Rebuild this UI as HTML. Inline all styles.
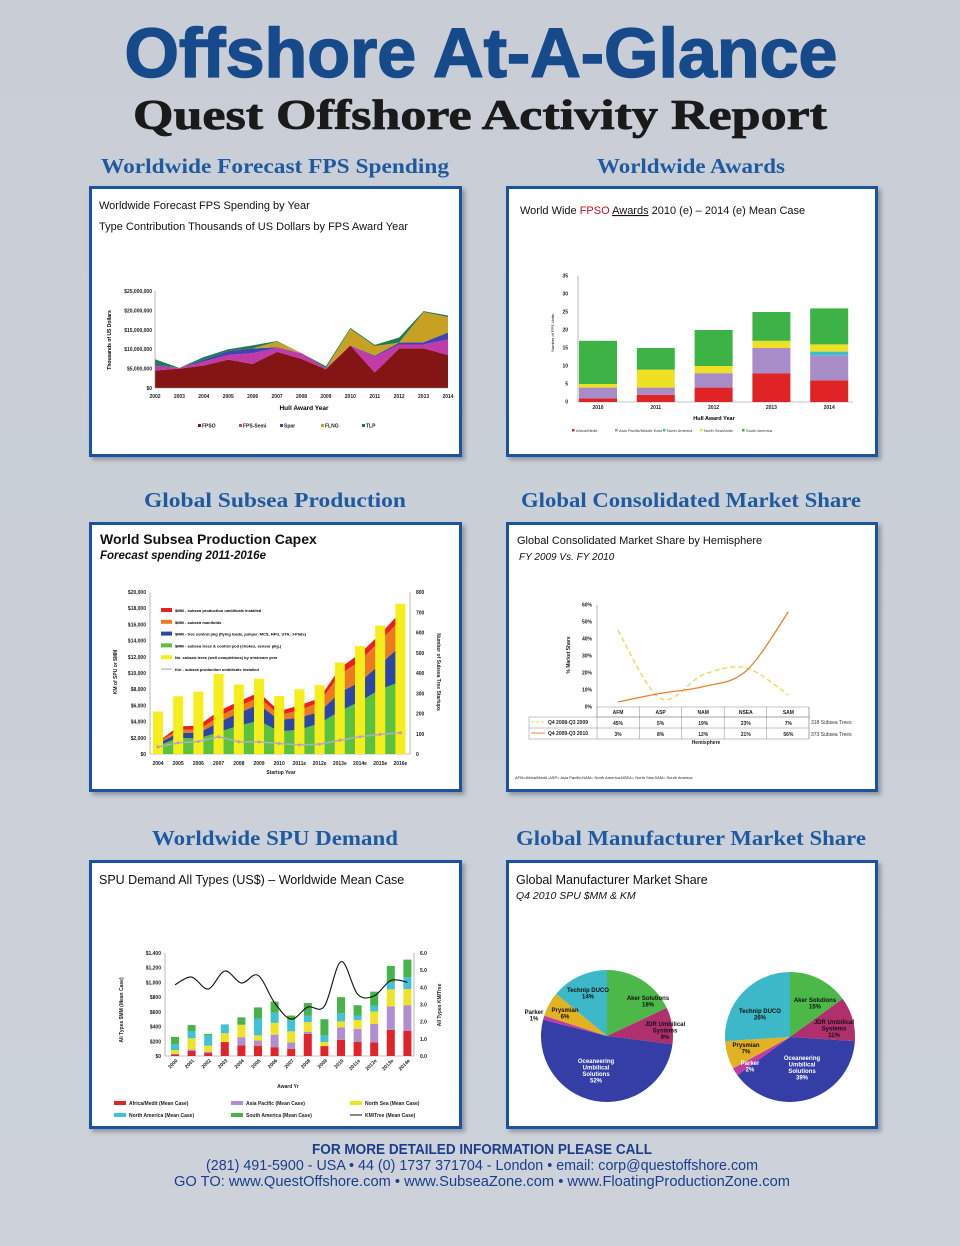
<!DOCTYPE html>
<html><head><meta charset="utf-8">
<style>
html,body{margin:0;padding:0;background:#cbd0d7;}
svg{display:block;font-family:"Liberation Sans",sans-serif;}
.sec{font-family:"Liberation Serif",serif;font-weight:bold;fill:#1f5aa0;font-size:21px;text-anchor:middle;}
.ttl{font-size:11px;fill:#111;}
.ax{font-size:5px;font-weight:bold;fill:#222;}
</style></head><body>
<svg id="pg" width="960" height="1246" viewBox="0 0 960 1246">
<defs>
<linearGradient id="bg" x1="0" y1="0" x2="0" y2="1"><stop offset="0" stop-color="#c9ced6"/><stop offset="1" stop-color="#cdd2da"/></linearGradient>
<filter id="sh" x="-5%" y="-5%" width="115%" height="115%"><feDropShadow dx="3" dy="3" stdDeviation="2" flood-color="#556" flood-opacity="0.5"/></filter>
</defs>
<rect x="0" y="0" width="960" height="1246" fill="url(#bg)"/>
<text x="481" y="77" text-anchor="middle" textLength="713" lengthAdjust="spacingAndGlyphs" font-family="Liberation Sans Narrow,Liberation Sans,sans-serif" font-size="70" font-weight="bold" fill="#174a8b" stroke="#174a8b" stroke-width="1.5">Offshore At-A-Glance</text>
<text x="480" y="129" text-anchor="middle" textLength="694" lengthAdjust="spacingAndGlyphs" font-family="Liberation Serif,serif" font-size="42" font-weight="bold" fill="#1a1a1a" stroke="#1a1a1a" stroke-width="0.8">Quest Offshore Activity Report</text>

<text class="sec" x="275" y="173" textLength="348" lengthAdjust="spacingAndGlyphs">Worldwide Forecast FPS Spending</text>
<text class="sec" x="691" y="173" textLength="188" lengthAdjust="spacingAndGlyphs">Worldwide Awards</text>
<text class="sec" x="275" y="507" textLength="262" lengthAdjust="spacingAndGlyphs">Global Subsea Production</text>
<text class="sec" x="691" y="507" textLength="340" lengthAdjust="spacingAndGlyphs">Global Consolidated Market Share</text>
<text class="sec" x="275" y="845" textLength="246" lengthAdjust="spacingAndGlyphs">Worldwide SPU Demand</text>
<text class="sec" x="691" y="845" textLength="350" lengthAdjust="spacingAndGlyphs">Global Manufacturer Market Share</text>

<g filter="url(#sh)">
<rect x="90.5" y="187.5" width="370" height="268" fill="#fff" stroke="#1f52a0" stroke-width="3"/>
<rect x="507.5" y="187.5" width="369" height="268" fill="#fff" stroke="#1f52a0" stroke-width="3"/>
<rect x="90.5" y="523.5" width="370" height="267" fill="#fff" stroke="#1f52a0" stroke-width="3"/>
<rect x="507.5" y="523.5" width="369" height="267" fill="#fff" stroke="#1f52a0" stroke-width="3"/>
<rect x="90.5" y="861.5" width="370" height="266" fill="#fff" stroke="#1f52a0" stroke-width="3"/>
<rect x="507.5" y="861.5" width="369" height="266" fill="#fff" stroke="#1f52a0" stroke-width="3"/>
</g>

<text class="ttl" x="99" y="209">Worldwide Forecast FPS Spending by Year</text>
<text class="ttl" x="99" y="230">Type Contribution Thousands of US Dollars by FPS Award Year</text>
<text class="ttl" x="520" y="214" font-size="11.5">World Wide <tspan fill="#c0141a">FPSO</tspan> <tspan text-decoration="underline">Awards</tspan> 2010 (e) – 2014 (e) Mean Case</text>
<text x="100" y="544" font-size="14" font-weight="bold" fill="#111">World Subsea Production Capex</text>
<text x="100" y="559" font-size="11.5" font-weight="bold" font-style="italic" fill="#111">Forecast spending 2011-2016e</text>
<text class="ttl" x="517" y="544" font-size="11.5">Global Consolidated Market Share by Hemisphere</text>
<text x="519" y="560" font-size="10" font-style="italic" fill="#111">FY 2009 Vs. FY 2010</text>
<text x="99" y="884" font-size="12.5" fill="#111">SPU Demand All Types (US$) – Worldwide Mean Case</text>
<text x="516" y="884" font-size="12.5" fill="#111">Global Manufacturer Market Share</text>
<text x="516" y="899" font-size="10.5" font-style="italic" fill="#111">Q4 2010 SPU $MM &amp; KM</text>

<g font-weight="bold" fill="#1b3d8a" text-anchor="middle" font-size="14.5">
<text x="482" y="1154" textLength="340" lengthAdjust="spacingAndGlyphs">FOR MORE DETAILED INFORMATION PLEASE CALL</text>
<text x="482" y="1170" font-weight="normal" textLength="552" lengthAdjust="spacingAndGlyphs">(281) 491-5900 - USA  •  44 (0) 1737 371704 - London   •  email: corp@questoffshore.com</text>
<text x="482" y="1186" font-weight="normal" textLength="616" lengthAdjust="spacingAndGlyphs">GO TO:  www.QuestOffshore.com •  www.SubseaZone.com  •  www.FloatingProductionZone.com</text>
</g>
<g id="charts"></g>
</svg>
<script>
// ---------- Chart 1: FPS spending (stacked area, $M) ----------
const fpsYears = ['2002','2003','2004','2005','2006','2007','2008','2009','2010','2011','2012','2013','2014'];
const fpsFPSO = [4.5,5.0,5.8,7.3,6.2,9.3,7.5,4.8,11.0,4.0,10.2,10.2,8.5];
const fpsSemi = [1.2,0.2,1.0,1.2,2.8,1.0,1.5,0.3,0.0,4.0,1.0,1.0,4.0];
const fpsSpar = [0.3,0.0,0.5,1.0,1.2,0.2,0.0,0.0,0.0,0.3,0.5,0.6,1.8];
const fpsFLNG = [0.0,0.0,0.0,0.0,0.0,1.5,0.0,0.0,4.2,2.5,0.0,7.8,4.0];
const fpsTLP = [1.4,0.0,0.7,0.5,0.8,0.1,0.0,0.5,0.3,0.3,1.3,0.2,0.4];
const fpsTicks = ['$0','$5,000,000','$10,000,000','$15,000,000','$20,000,000','$25,000,000'];
// ---------- Chart 2: FPSO awards ----------
const awYears = ['2010','2011','2012','2013','2014'];
const awAfrica = [1,2,4,8,6];
const awAsia = [3,2,4,7,7];
const awNAm = [0,0,0,0,1];
const awNSea = [1,5,2,2,2];
const awSAm = [12,6,10,8,10];
const awTicks = [0,5,10,15,20,25,30,35];
// ---------- Chart 3: Subsea capex ----------
const cxYears = ['2004','2005','2006','2007','2008','2009','2010','2011e','2012e','2013e','2014e','2015e','2016e'];
const cxTrees = [210,285,308,395,343,372,286,320,340,452,533,634,742];
const cxGreen = [1000,2000,1900,2700,3500,4100,2800,3000,3800,5300,6500,8000,8900];
const cxBlue = [300,600,700,1200,1600,2000,1400,1500,1400,2300,2400,3100,4400];
const cxOrange = [100,400,400,700,800,900,600,900,1200,2200,2600,2900,3200];
const cxRed = [100,400,500,700,600,600,500,600,500,800,900,800,1000];
const cxKm = [35,55,62,85,60,60,52,45,48,68,85,97,105];
const cxLeftTicks = ['$0','$2,000','$4,000','$6,000','$8,000','$10,000','$12,000','$14,000','$16,000','$18,000','$20,000'];
const cxRightTicks = [0,100,200,300,400,500,600,700,800];
// ---------- Chart 4: SPU demand ----------
const spYears = ['2000','2001','2002','2003','2004','2005','2006','2007','2008','2009','2010','2011e','2012e','2013e','2014e'];
const spAfrica = [20,70,40,190,145,140,120,95,300,135,220,190,185,355,340];
const spAsia = [10,20,20,0,110,70,170,90,30,0,170,180,250,320,350];
const spNSea = [50,150,80,120,170,70,160,150,130,55,80,120,170,230,220];
const spNAm = [80,100,140,120,0,230,140,150,90,90,110,60,80,100,160];
const spSAm = [100,80,20,0,100,150,150,65,170,220,220,140,190,220,240];
const spKm = [4.15,4.6,3.9,4.95,4.25,4.7,3.1,2.15,2.85,2.9,5.5,3.6,3.5,4.4,4.3];
const spLeftTicks = ['$0','$200','$400','$600','$800','$1,000','$1,200','$1,400'];
const spRightTicks = ['0.0','1.0','2.0','3.0','4.0','5.0','6.0'];
// ---------- Chart 5: market share ----------
const msCats = ['AFM','ASP','NAM','NSEA','SAM'];
const ms2009 = [45,5,19,23,7];
const ms2010 = [3,8,12,21,56];
const msTicks = [0,10,20,30,40,50,60];
// ---------- Chart 6: pies ----------
const pieNames = ['Aker Solutions','JDR Umbilical Systems','Oceaneering Umbilical Solutions','Parker','Prysmian','Technip DUCO'];
const pieLeft = [18,9,52,1,6,14];
const pieRight = [15,11,39,2,7,26];

const NS='http://www.w3.org/2000/svg';
const root=document.getElementById('charts');
function mk(tag,attrs,parent){const e=document.createElementNS(NS,tag);for(const k in attrs)e.setAttribute(k,attrs[k]);(parent||root).appendChild(e);return e;}
function txt(x,y,s,attrs){const e=mk('text',Object.assign({x:x,y:y},attrs||{}));e.textContent=s;return e;}
function smooth(pts){let d='M'+pts[0][0]+','+pts[0][1];for(let i=0;i<pts.length-1;i++){const p0=pts[i-1]||pts[i],p1=pts[i],p2=pts[i+1],p3=pts[i+2]||p2;const c1=[p1[0]+(p2[0]-p0[0])/6,p1[1]+(p2[1]-p0[1])/6],c2=[p2[0]-(p3[0]-p1[0])/6,p2[1]-(p3[1]-p1[1])/6];d+=' C'+c1+' '+c2+' '+p2;}return d;}

// ===== Chart 1 =====
(function(){
 const x0=155,x1=448,yb=388,yt=291,ymax=25;
 const X=i=>x0+i*(x1-x0)/(fpsYears.length-1), Y=v=>yb-v/ymax*(yb-yt);
 const series=[fpsFPSO,fpsSemi,fpsSpar,fpsFLNG,fpsTLP];
 const cols=['#831515','#c23aa8','#4242b0','#c8a024','#1f7d4d'];
 const names=['FPSO','FPS-Semi','Spar','FLNG','TLP'];
 let base=fpsYears.map(()=>0);
 series.forEach((s,k)=>{
  const top=base.map((b,i)=>b+s[i]);
  let d='M'+top.map((v,i)=>X(i)+','+Y(v)).join(' L');
  for(let i=base.length-1;i>=0;i--)d+=' L'+X(i)+','+Y(base[i]);
  const p=mk('path',{d:d+'Z',fill:cols[k]});
  
  
  base=top;
 });
 mk('line',{x1:x0,y1:yt,x2:x0,y2:yb,stroke:'#888','stroke-width':0.6});
 mk('line',{x1:x0,y1:yb,x2:x1,y2:yb,stroke:'#888','stroke-width':0.6});
 fpsTicks.forEach((t,i)=>{const e=txt(x0-3,Y(i*5)+2,t,{class:'ax','text-anchor':'end'});
  
  });
 fpsYears.forEach((t,i)=>{const e=txt(X(i),398,t,{class:'ax','text-anchor':'middle'});
  
  });
 const xt=txt(304,410,'Hull Award Year',{'font-size':6.5,'font-weight':'bold','text-anchor':'middle'});
 
 
 const yt2=txt(0,0,'Thousands of US Dollars',{'font-size':5,'font-weight':'bold','text-anchor':'middle',transform:'translate(111,340) rotate(-90)'});
 
 
 names.forEach((n,k)=>{const g=mk('g',{});
  
  
  mk('rect',{x:198+k*41,y:424,width:3,height:3,fill:cols[k]},g);
  const t=txt(202+k*41,427.5,n,{class:'ax'});g.appendChild(t);});
})();

// ===== Chart 2 =====
(function(){
 const x0=578,x1=853,yb=402,yt=276,ymax=35,bw=38;
 const X=i=>598+i*57.8, Y=v=>yb-v/ymax*(yb-yt);
 const series=[awAfrica,awAsia,awNAm,awNSea,awSAm];
 const cols=['#e02426','#a88cc8','#36bfcc','#eee124','#3db245'];
 const names=['Africa/Medit.','Asia Pacific/Middle East','North America','North Sea/Arctic','South America'];
 mk('line',{x1:x0,y1:yt,x2:x0,y2:yb,stroke:'#888','stroke-width':0.6});
 mk('line',{x1:x0,y1:yb,x2:x1,y2:yb,stroke:'#888','stroke-width':0.6});
 awTicks.forEach(t=>{const e=txt(x0-10,Y(t)+1.5,String(t),{class:'ax','font-size':4,'text-anchor':'end'});
  
  });
 awYears.forEach((yr,i)=>{let b=0;
  series.forEach((s,k)=>{if(s[i]>0){const r=mk('rect',{x:X(i)-bw/2,y:Y(b+s[i]),width:bw,height:Y(b)-Y(b+s[i]),fill:cols[k]});
   
   }b+=s[i];});
  const e=txt(X(i),409,yr,{class:'ax','font-size':4,'text-anchor':'middle'});
  
  });
 const xt=txt(714,420,'Hull Award Year',{'font-size':5.5,'font-weight':'bold','text-anchor':'middle'});
 
 
 const yt2=txt(0,0,'Number of FPS Units',{'font-size':4,'text-anchor':'middle',transform:'translate(554,333) rotate(-90)'});
 
 
 const lx=[572,615,663,700,742];
 names.forEach((n,k)=>{const g=mk('g',{});
  
  
  mk('rect',{x:lx[k],y:429,width:2.5,height:2.5,fill:cols[k]},g);
  g.appendChild(txt(lx[k]+4,432,n,{'font-size':4,fill:'#333'}));});
})();

// ===== Chart 3 =====
(function(){
 const x0=150,x1=410,yb=754,yt=592;
 const X=i=>158+i*20.2, Y=v=>yb-v/20000*(yb-yt), YR=v=>yb-v/800*(yb-yt);
 mk('line',{x1:x0,y1:yt,x2:x0,y2:yb,stroke:'#888','stroke-width':0.6});
 mk('line',{x1:x1,y1:yt,x2:x1,y2:yb,stroke:'#888','stroke-width':0.6});
 mk('line',{x1:x0,y1:yb,x2:x1,y2:yb,stroke:'#888','stroke-width':0.6});
 const series=[cxGreen,cxBlue,cxOrange,cxRed];
 const cols=['#5bc241','#2a46a8','#ec7a23','#e8211f'];
 let base=cxYears.map(()=>0);
 series.forEach((s,k)=>{const top=base.map((b,i)=>b+s[i]);
  let d='M'+top.map((v,i)=>X(i)+','+Y(v)).join(' L');
  for(let i=base.length-1;i>=0;i--)d+=' L'+X(i)+','+Y(base[i]);
  const p=mk('path',{d:d+'Z',fill:cols[k]});
  
  
  base=top;});
 cxTrees.forEach((v,i)=>{const r=mk('rect',{x:X(i)-5,y:YR(v),width:10,height:yb-YR(v),fill:'#f5ee1a'});
  
  });
 const pl=mk('polyline',{points:cxKm.map((v,i)=>X(i)+','+YR(v)).join(' '),fill:'none',stroke:'#b8a8c8','stroke-width':1.5});
 
 
 cxKm.forEach((v,i)=>{const c=mk('circle',{cx:X(i),cy:YR(v),r:1.5,fill:'#b0a0c0'});
  
  });
 cxLeftTicks.forEach((t,i)=>{const e=txt(x0-4,Y(i*2000)+2,t,{class:'ax','text-anchor':'end'});
  
  });
 cxRightTicks.forEach(t=>{const e=txt(x1+6,YR(t)+2,String(t),{class:'ax'});
  
  });
 cxYears.forEach((t,i)=>{const e=txt(X(i),765,t,{class:'ax','text-anchor':'middle'});
  
  });
 const xt=txt(281,774,'Startup Year',{class:'ax','text-anchor':'middle'});
 
 
 const l1=txt(0,0,'KM of SPU or $MM',{class:'ax','text-anchor':'middle',transform:'translate(117,672) rotate(-90)'});
 
 
 const l2=txt(0,0,'Number of Subsea Tree Startups',{class:'ax','text-anchor':'middle',transform:'translate(437,672) rotate(90)'});
 
 
 const leg=['$MM - subsea production umbilicals installed','$MM - subsea manifolds','$MM - tree control pkg (flying leads, jumper, MCS, HPU, UTA, J-Plate)','$MM - subsea trees & control pod (chokes, sensor pkg.)','No. subsea trees (well completions) by onstream year','Km - subsea production umbilicals installed'];
 const lc=['#e8211f','#ec7a23','#2a46a8','#5bc241','#f5ee1a','#b8a8c8'];
 leg.forEach((n,k)=>{const g=mk('g',{});
  
  
  mk('rect',{x:161,y:608+k*11.8-(k==5?-1.5:0),width:11,height:k==5?1.2:4,fill:lc[k]},g);
  g.appendChild(txt(175,612+k*11.8,n,{'font-size':4,'font-weight':'bold'}));});
})();

// ===== Chart 5 =====
(function(){
 const x0=597,x1=808,yb=707,yt=605;
 const X=i=>618+i*42.6, Y=v=>yb-v/60*(yb-yt);
 mk('line',{x1:x0,y1:yt,x2:x0,y2:yb,stroke:'#888','stroke-width':0.6});
 msTicks.forEach(t=>{const e=txt(x0-5,Y(t)+1.5,t+'%',{class:'ax','font-size':4.5,'text-anchor':'end'});
  
  });
 const a=mk('path',{d:smooth(ms2009.map((v,i)=>[X(i),Y(v)])),fill:'none',stroke:'#e8d850','stroke-width':1.3,'stroke-dasharray':'5,3'});
 
 
 const b=mk('path',{d:smooth(ms2010.map((v,i)=>[X(i),Y(v)])),fill:'none',stroke:'#ec8030','stroke-width':1.3});
 
 
 const yt2=txt(0,0,'% Market Share',{class:'ax','text-anchor':'middle',transform:'translate(570,655) rotate(-90)'});
 
 
 const tg=mk('g',{stroke:'#888','stroke-width':0.5,fill:'none'});
 mk('rect',{x:597,y:707,width:212,height:10},tg);mk('rect',{x:529,y:717,width:280,height:22},tg);
 mk('line',{x1:529,y1:728,x2:809,y2:728},tg);
 for(let i=0;i<=5;i++)mk('line',{x1:597+i*42.4,y1:707,x2:597+i*42.4,y2:739},tg);
 msCats.forEach((c,i)=>{const e=txt(X(i),714,c,{class:'ax','font-size':4.5,'text-anchor':'middle'});
  
  
  const v1=txt(X(i),725,ms2009[i]+'%',{class:'ax','font-size':4.5,'text-anchor':'middle'});
  
  
  const v2=txt(X(i),736,ms2010[i]+'%',{class:'ax','font-size':4.5,'text-anchor':'middle'});
  
  });
 mk('line',{x1:531,y1:722,x2:545,y2:722,stroke:'#e8d850','stroke-width':1,'stroke-dasharray':'3,2'});
 mk('line',{x1:531,y1:733,x2:545,y2:733,stroke:'#ec8030','stroke-width':1});
 txt(548,724,'Q4 2008-Q3  2009',{class:'ax','font-size':4});
 txt(548,735,'Q4 2009-Q3  2010',{class:'ax','font-size':4});
 txt(811,724,'318 Subsea Trees',{'font-size':5,fill:'#333'});
 txt(811,736,'373 Subsea Trees',{'font-size':5,fill:'#333'});
 txt(706,744,'Hemisphere',{class:'ax','font-size':4.5,'text-anchor':'middle'});
 txt(515,779,'AFM=Africa/Medit.;ASP= Asia Pacific;NAM= North America;NSEA= North Sea;SAM= South America',{'font-size':4,fill:'#222'});
})();

// ===== Chart 4 =====
(function(){
 const x0=165,x1=414,yb=1056,yt=953;
 const X=i=>175+i*16.6, Y=v=>yb-v/1400*(yb-yt), YR=v=>yb-v/6*(yb-yt);
 const series=[spAfrica,spAsia,spNSea,spNAm,spSAm];
 const cols=['#e0242a','#b18ed0','#eee424','#42c2d6','#46b448'];
 const names=['Africa/Medit (Mean Case)','Asia Pacific (Mean Case)','North Sea (Mean Case)','North America (Mean Case)','South America (Mean Case)','KM/Tree (Mean Case)'];
 mk('line',{x1:x0,y1:yt,x2:x0,y2:yb,stroke:'#888','stroke-width':0.6});
 mk('line',{x1:x1,y1:yt,x2:x1,y2:yb,stroke:'#888','stroke-width':0.6});
 mk('line',{x1:x0,y1:yb,x2:x1,y2:yb,stroke:'#888','stroke-width':0.6});
 spYears.forEach((yr,i)=>{let b=0;
  series.forEach((s,k)=>{if(s[i]>0){const r=mk('rect',{x:X(i)-4,y:Y(b+s[i]),width:8,height:Y(b)-Y(b+s[i]),fill:cols[k]});
   
   }b+=s[i];});
  const e=txt(0,0,yr,{class:'ax','font-size':6,'text-anchor':'end',transform:'translate('+(X(i)+3)+',1061) rotate(-45)'});
  
  });
 const ln=mk('path',{d:smooth(spKm.map((v,i)=>[X(i),YR(v)])),fill:'none',stroke:'#111','stroke-width':1.1});
 
 
 spLeftTicks.forEach((t,i)=>{const e=txt(x0-4,Y(i*200)+2,t,{class:'ax','font-size':5.5,'text-anchor':'end'});
  
  });
 spRightTicks.forEach((t,i)=>{const e=txt(x1+6,YR(i)+2,t,{class:'ax','font-size':5.5});
  
  });
 const xt=txt(288,1088,'Award Yr',{class:'ax','font-size':6,'text-anchor':'middle'});
 
 
 const l1=txt(0,0,'All Types $MM (Mean Case)',{class:'ax','font-size':6,'text-anchor':'middle',transform:'translate(123,1010) rotate(-90)'});
 
 
 const l2=txt(0,0,'All Types KM/Tree',{class:'ax','font-size':6,'text-anchor':'middle',transform:'translate(441,1005) rotate(-90)'});
 
 
 const lp=[[114,1101],[231,1101],[350,1101],[114,1113],[231,1113],[350,1113]];
 const lc=['#e0242a','#b18ed0','#eee424','#42c2d6','#46b448','#111'];
 names.forEach((n,k)=>{const g=mk('g',{});
  
  
  mk('rect',{x:lp[k][0],y:lp[k][1]+(k==5?1.5:0),width:12,height:k==5?1:4,fill:lc[k]},g);
  g.appendChild(txt(lp[k][0]+15,lp[k][1]+4,n,{class:'ax','font-size':5}));});
})();

// ===== Chart 6 =====
(function(){
 const cols=['#4cb848','#b0306e','#353ea6','#c03ca6','#e2b223','#3cb8c8'];
 function pie(vals,cx,cy,r,tag,labels){
  const tot=vals.reduce((a,b)=>a+b,0);let a0=-Math.PI/2;
  vals.forEach((v,k)=>{const a1=a0+v/tot*2*Math.PI;
   const p=[cx+r*Math.cos(a0),cy+r*Math.sin(a0)],q=[cx+r*Math.cos(a1),cy+r*Math.sin(a1)];
   const s=mk('path',{d:'M'+cx+','+cy+' L'+p+' A'+r+','+r+' 0 '+((a1-a0)>Math.PI?1:0)+' 1 '+q+'Z',fill:cols[k]});
   
   
   a0=a1;});
  labels.forEach(l=>{const lines=l[2].split('|');lines.forEach((ln,j)=>{const e=txt(cx+l[0],cy+l[1]+j*6.5,ln,{'font-size':6,'font-weight':'bold','text-anchor':'middle',fill:l[3]||'#111'});
   
   });});
 }
 pie(pieLeft,607,1036,66,'pie-spu',[[41,-36,'Aker Solutions|'+pieLeft[0]+'%'],[58,-10,'JDR Umbilical|Systems|'+pieLeft[1]+'%'],[-11,27,'Oceaneering|Umbilical|Solutions|'+pieLeft[2]+'%','#fff'],[-73,-22,'Parker|'+pieLeft[3]+'%'],[-42,-24,'Prysmian|'+pieLeft[4]+'%'],[-19,-44,'Technip DUCO|'+pieLeft[5]+'%']]);
 pie(pieRight,790,1037,65,'pie-km',[[25,-35,'Aker Solutions|'+pieRight[0]+'%'],[44,-13,'JDR Umbilical|Systems|'+pieRight[1]+'%'],[12,23,'Oceaneering|Umbilical|Solutions|'+pieRight[2]+'%','#fff'],[-40,28,'Parker|'+pieRight[3]+'%','#fff'],[-44,10,'Prysmian|'+pieRight[4]+'%'],[-30,-24,'Technip DUCO|'+pieRight[5]+'%']]);
})();
</script>
</body></html>
